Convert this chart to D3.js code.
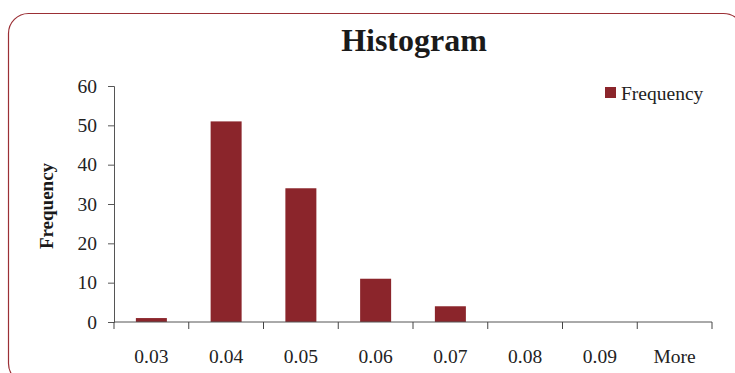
<!DOCTYPE html>
<html><head><meta charset="utf-8">
<script src="https://cdn.jsdelivr.net/npm/d3@7"></script>
<style>body{margin:0;background:#fff}svg{display:block}</style>
</head><body>
<script>
const categories = ["0.03","0.04","0.05","0.06","0.07","0.08","0.09","More"];
const frequency = [1,51,34,11,4,0,0,0];
const yTicks = [0,10,20,30,40,50,60];

const W=735,H=373;
const svg=d3.select("body").append("svg").attr("width",W).attr("height",H);
const font="'Liberation Serif','Times New Roman',serif";

svg.append("rect").attr("x",8.5).attr("y",13.5).attr("width",735).attr("height",370)
  .attr("rx",20).attr("ry",20).attr("fill","none").attr("stroke","#9b2f35").attr("stroke-width",1.2);

const m={l:114,r:712,t:86,b:322};
const xb=d3.scaleBand().domain(categories).range([m.l,m.r]);
const y=d3.scaleLinear().domain([0,60]).range([m.b,m.t]);

svg.append("g").selectAll("rect").data(frequency).join("rect")
  .attr("x",(d,i)=>xb(categories[i])+xb.bandwidth()/2-15.5)
  .attr("width",31)
  .attr("y",d=>y(d)).attr("height",d=>y(0)-y(d))
  .attr("fill","#8b252b");

// y axis
const ya=svg.append("g").attr("transform",`translate(${m.l},0)`)
  .call(d3.axisLeft(y).tickValues(yTicks).tickSize(6).tickPadding(11).tickFormat(d3.format("d")));
ya.selectAll("text").attr("font-family",font).attr("font-size",19.5).attr("fill","#222");
ya.selectAll("line,path").attr("stroke","#555");

// x axis boundaries ticks
const xa=svg.append("g").attr("transform",`translate(0,${m.b})`);
xa.append("line").attr("x1",m.l).attr("x2",m.r).attr("stroke","#555");
const bounds=categories.map(c=>xb(c)).concat([m.r]);
xa.selectAll("line.t").data(bounds).join("line").attr("class","t")
  .attr("x1",d=>d).attr("x2",d=>d).attr("y1",0).attr("y2",7).attr("stroke","#444");
xa.selectAll("text").data(categories).join("text")
  .attr("x",d=>xb(d)+xb.bandwidth()/2).attr("y",41).attr("text-anchor","middle")
  .attr("font-family",font).attr("font-size",19.5).attr("fill","#222").text(d=>d);

// title
svg.append("text").attr("x",414).attr("y",51).attr("text-anchor","middle")
  .attr("font-family",font).attr("font-weight","bold").attr("font-size",32).attr("fill","#1a1a1a").text("Histogram");
// y title
svg.append("text").attr("transform","translate(53,206) rotate(-90)").attr("text-anchor","middle")
  .attr("font-family",font).attr("font-weight","bold").attr("font-size",19).attr("fill","#1a1a1a").text("Frequency");
// legend
svg.append("rect").attr("x",605).attr("y",87).attr("width",11).attr("height",11).attr("fill","#8b252b");
svg.append("text").attr("x",621).attr("y",100).attr("font-family",font).attr("font-size",19.5).attr("fill","#222").text("Frequency");
</script>
</body></html>
